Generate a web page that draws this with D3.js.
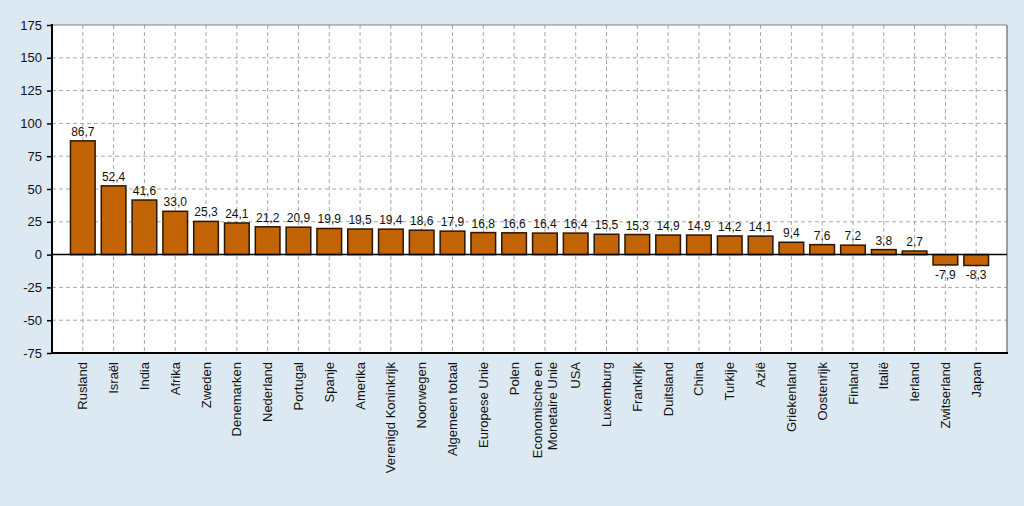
<!DOCTYPE html>
<html><head><meta charset="utf-8">
<script src="https://cdn.jsdelivr.net/npm/d3@7"></script>
<style>
html,body{margin:0;padding:0;background:#dde9f2;}
svg{display:block;font-family:"Liberation Sans",Arial,sans-serif;}
</style></head>
<body>
<svg id="chart" width="1024" height="506"></svg>
<script>
const categories = ["Rusland","Israël","India","Afrika","Zweden","Denemarken","Nederland","Portugal","Spanje","Amerika","Verenigd Koninkrijk","Noorwegen","Algemeen totaal","Europese Unie","Polen","Economische en|Monetaire Unie","USA","Luxemburg","Frankrijk","Duitsland","China","Turkije","Azië","Griekenland","Oostenrijk","Finland","Italië","Ierland","Zwitserland","Japan"];
const values = [86.7,52.4,41.6,33.0,25.3,24.1,21.2,20.9,19.9,19.5,19.4,18.6,17.9,16.8,16.6,16.4,16.4,15.5,15.3,14.9,14.9,14.2,14.1,9.4,7.6,7.2,3.8,2.7,-7.9,-8.3];
const yTicks = [-75,-50,-25,0,25,50,75,100,125,150,175];

const svg = d3.select("#chart");
const L = 52, R = 1007, T = 25, B = 353;
const x = d3.scaleBand().domain(categories).range([L, R]).paddingInner(0.2).paddingOuter(0.6);
const y = d3.scaleLinear().domain([-75, 175]).range([B, T]);
const fmt = v => d3.format(".1f")(v).replace(".", ",").replace("\u2212", "-");
const fmtTick = v => d3.format("d")(v).replace("\u2212", "-");

svg.append("rect").attr("x", L).attr("y", T).attr("width", R - L).attr("height", B - T).attr("fill", "#fff");

// horizontal grid
svg.append("g").selectAll("line").data(yTicks.filter(t => t !== 0 && t !== -75 && t !== 175)).join("line")
  .attr("x1", L).attr("x2", R).attr("y1", d => y(d)).attr("y2", d => y(d))
  .attr("stroke", "#a8a8a8").attr("stroke-width", 1).attr("stroke-dasharray", "4,3");
// vertical grid
svg.append("g").selectAll("line").data(categories).join("line")
  .attr("x1", d => x(d) + x.bandwidth() / 2).attr("x2", d => x(d) + x.bandwidth() / 2)
  .attr("y1", T).attr("y2", B)
  .attr("stroke", "#a8a8a8").attr("stroke-width", 1).attr("stroke-dasharray", "4,3");

// border top/right
svg.append("line").attr("x1", L).attr("x2", R).attr("y1", T).attr("y2", T).attr("stroke", "#808080").attr("stroke-width", 1);
svg.append("line").attr("x1", R).attr("x2", R).attr("y1", T).attr("y2", B).attr("stroke", "#808080").attr("stroke-width", 1.5);

// bars
svg.append("g").selectAll("rect").data(values).join("rect")
  .attr("x", (d, i) => x(categories[i]))
  .attr("width", x.bandwidth())
  .attr("y", d => y(Math.max(0, d)))
  .attr("height", d => Math.abs(y(d) - y(0)))
  .attr("fill", "#c26306").attr("stroke", "#2b1600").attr("stroke-width", 1.5);

// zero line
svg.append("line").attr("x1", L).attr("x2", R).attr("y1", y(0)).attr("y2", y(0)).attr("stroke", "#000").attr("stroke-width", 1.5);

// value labels
svg.append("g").selectAll("text").data(values).join("text")
  .attr("x", (d, i) => x(categories[i]) + x.bandwidth() / 2)
  .attr("y", d => d >= 0 ? y(d) - 5 : y(d) + 14)
  .attr("text-anchor", "middle").attr("font-size", 12).attr("fill", "#111")
  .text(d => fmt(d));

// y axis
const ya = svg.append("g").attr("transform", `translate(${L},0)`)
  .call(d3.axisLeft(y).tickValues(yTicks).tickSize(5).tickPadding(5).tickFormat(fmtTick));
ya.select(".domain").remove();
ya.selectAll("line").attr("stroke", "#000").attr("stroke-width", 1.5);
ya.selectAll("text").attr("font-size", 13).attr("fill", "#111").attr("font-family", "'Liberation Sans',Arial,sans-serif");
svg.append("line").attr("x1", L).attr("x2", L).attr("y1", T - 1).attr("y2", B + 1).attr("stroke", "#000").attr("stroke-width", 2);

// x axis
svg.append("line").attr("x1", L - 1).attr("x2", R + 1).attr("y1", B).attr("y2", B).attr("stroke", "#000").attr("stroke-width", 2);
const xl = svg.append("g").selectAll("text").data(categories).join("text")
  .attr("transform", d => `translate(${x(d) + x.bandwidth() / 2},${B + 9}) rotate(-90)`)
  .attr("text-anchor", "end").attr("font-size", 13).attr("fill", "#111");
xl.each(function(d) {
  const parts = d.split("|");
  const t = d3.select(this);
  const n = parts.length;
  parts.forEach((p, i) => {
    t.append("tspan").attr("x", 0).attr("y", (i - (n - 1) / 2) * 15).attr("dy", "0.35em").text(p);
  });
});
</script>
</body></html>
